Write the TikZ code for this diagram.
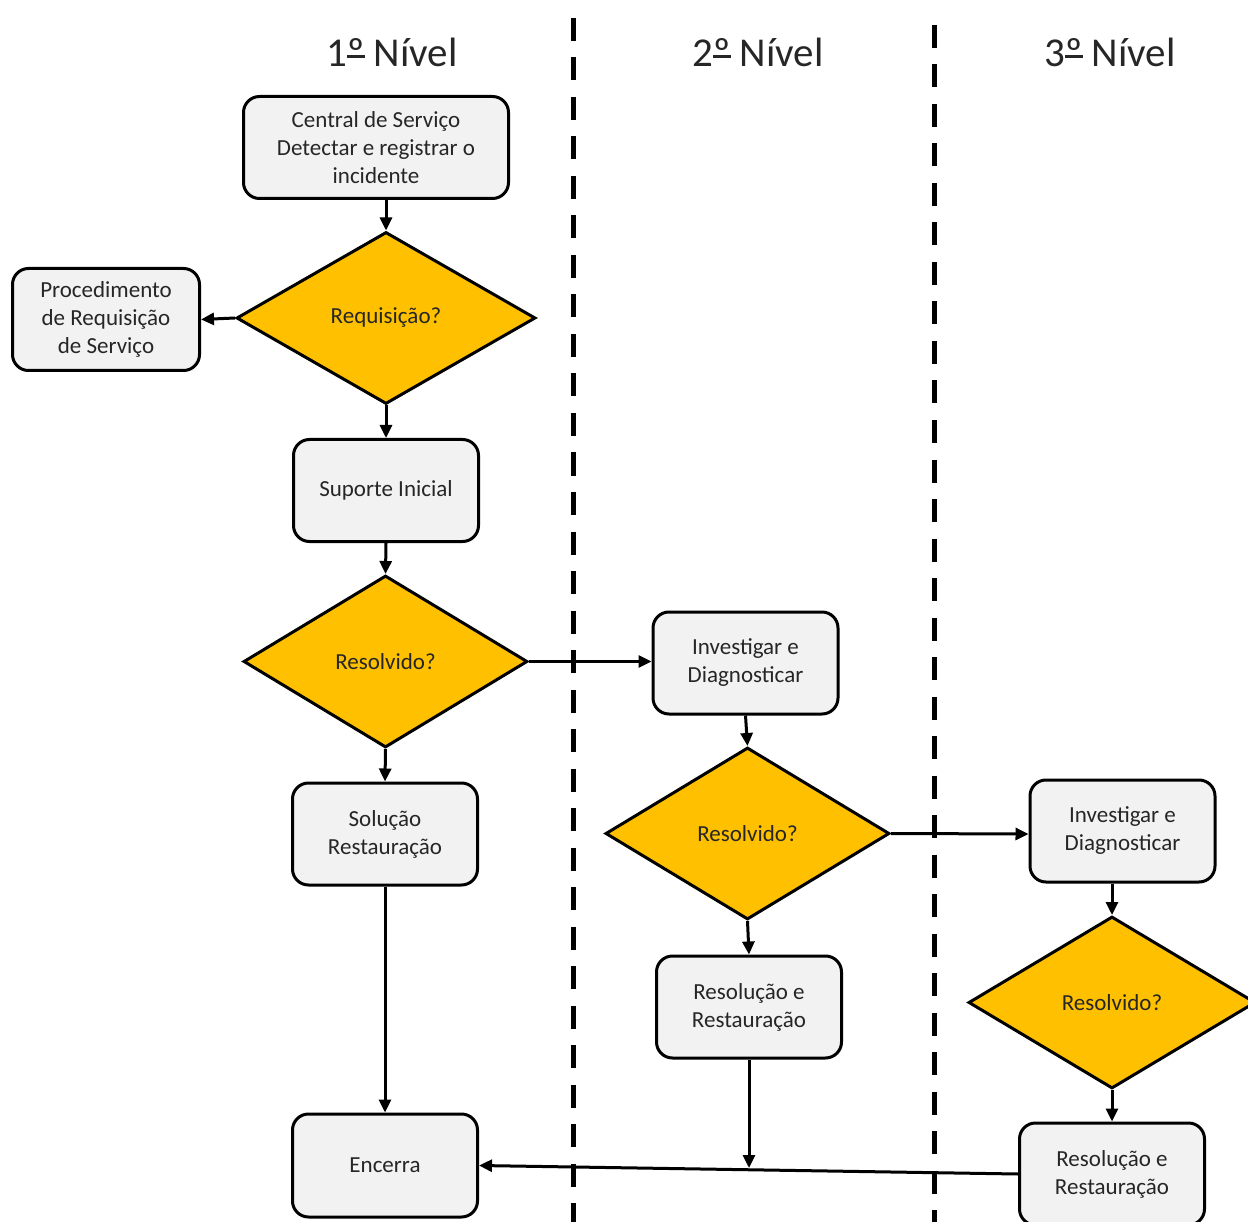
\documentclass[tikz,border=0pt]{standalone}
\usepackage{fontspec}
\setmainfont{Carlito}
\usetikzlibrary{shapes.geometric,arrows.meta}
\definecolor{boxfill}{HTML}{F2F2F2}
\definecolor{decfill}{HTML}{FFC000}
\definecolor{txt}{HTML}{262626}
% masculine ordinal indicator drawn with its underline
\newcommand{\ordmark}{{\setbox0\hbox{º}\rlap{\copy0}\raisebox{0.2em}{\rule{\wd0}{0.06em}}}}
\tikzset{
  stepbox/.style={draw=black, line width=3pt, fill=boxfill, rounded corners=16pt,
    minimum width=185pt, minimum height=102pt, inner sep=0pt, align=center,
    text=txt, font=\fontsize{23}{28}\selectfont},
  decision/.style={draw=black, line width=3pt, fill=decfill, diamond, aspect=1.7,
    inner sep=0pt, minimum width=#1, minimum height=172pt, align=center,
    text=txt, font=\fontsize{23}{28}\selectfont},
  flow/.style={draw=black, line width=3pt, -{Triangle[length=13pt,width=12pt]}},
  lane/.style={draw=black, line width=5pt, dash pattern=on 23pt off 16.5pt},
  heading/.style={text=txt, font=\fontsize{41}{48}\selectfont}
}
\begin{document}
\begin{tikzpicture}[x=1pt,y=-1pt]
\useasboundingbox (0,0) rectangle (1248,1222);
\begin{scope}
\clip (0,0) rectangle (1248,1222);

% lane separators
\draw[lane] (573,18) -- (573,1240);
\draw[lane] (934,25) -- (934,1240);

% lane headings
\node[heading] (h1) at (392,52) {1\ordmark{} Nível};
\node[heading] (h2) at (758,52) {2\ordmark{} Nível};
\node[heading] (h3) at (1110,52) {3\ordmark{} Nível};

% first level
\node[stepbox, minimum width=265pt] (central) at (376,147.5) {Central de Serviço\\Detectar e registrar o\\incidente};
\node[decision=299pt] (req) at (386,318) {Requisição?};
\node[stepbox, minimum width=187pt] (proc) at (106,319.5) {Procedimento\\de Requisição\\de Serviço};
\node[stepbox] (suporte) at (386,490.5) {Suporte Inicial};
\node[decision=284pt] (res1) at (385.5,661.5) {Resolvido?};
\node[stepbox] (solucao) at (385,834) {Solução\\Restauração};
\node[stepbox, minimum height=103pt] (encerra) at (385,1165.5) {Encerra};

% second level
\node[stepbox] (inv2) at (745.5,663) {Investigar e\\Diagnosticar};
\node[decision=284pt] (res2) at (747.5,833.5) {Resolvido?};
\node[stepbox] (resol2) at (749,1007) {Resolução e\\Restauração};

% third level
\node[stepbox] (inv3) at (1122.5,831) {Investigar e\\Diagnosticar};
\node[decision=287pt] (res3) at (1112,1002.5) {Resolvido?};
\node[stepbox] (resol3) at (1112,1174) {Resolução e\\Restauração};

% point where the second-level result meets the return line
\coordinate (join) at (749,1168);

% connectors
\draw[flow] (central.south -| req.north) -- (req.north);
\draw[flow] (req.west) -- (proc.east);
\draw[flow] (req.south) -- (suporte.north);
\draw[flow] (suporte.south) -- (res1.north);
\draw[flow] (res1.east) -- (inv2.west |- res1.east);
\draw[flow] (res1.south) -- (solucao.north);
\draw[flow] (solucao.south) -- (encerra.north);
\draw[flow] (inv2.south) -- (res2.north);
\draw[flow] (res2.east) -- ([yshift=-3pt]inv3.west);
\draw[flow] (res2.south) -- (resol2.north);
\draw[flow] (inv3.south -| res3.north) -- (res3.north);
\draw[flow] (res3.south) -- (resol3.north);
\draw[flow] (resol3.west) -- (encerra.east);
\draw[flow] (resol2.south) -- (join);
\end{scope}
\end{tikzpicture}
\end{document}
